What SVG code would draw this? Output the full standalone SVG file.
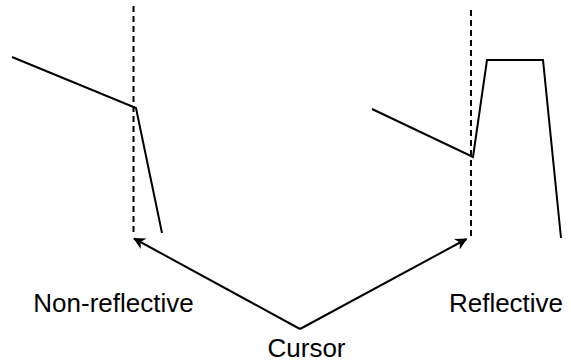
<svg xmlns="http://www.w3.org/2000/svg" width="571" height="364" viewBox="0 0 571 364">
<defs>
<style>
.ln{fill:none;stroke:#000;stroke-width:2;stroke-linejoin:miter}
.dash{fill:none;stroke:#000;stroke-width:2;stroke-dasharray:6 4}
.lbl{font-family:"Liberation Sans",Arial,sans-serif;font-size:26px;fill:#000;text-anchor:middle}
</style>
<marker id="ah" viewBox="0 0 12 12" refX="11" refY="6" markerWidth="12" markerHeight="12" markerUnits="userSpaceOnUse" orient="auto">
<path d="M0,0 L12,6 L0,12 L3.5,6 Z" fill="#000"/>
</marker>
</defs>
<rect width="571" height="364" fill="#fff"/>
<g id="nonreflective">
<line class="dash" x1="133.5" y1="6" x2="133.5" y2="236"/>
<polyline class="ln" points="12,57 136,108 162,233"/>
<text class="lbl" x="113.5" y="312">Non-reflective</text>
</g>
<g id="reflective">
<line class="dash" x1="471" y1="10" x2="471" y2="238"/>
<polyline class="ln" points="372,109 473,157 487,60 543,60 561,238"/>
<text class="lbl" x="506" y="312">Reflective</text>
</g>
<g id="cursor">
<text class="lbl" x="306.5" y="357">Cursor</text>
</g>
<g id="connectors">
<line class="ln" x1="300" y1="329" x2="134" y2="238.5" marker-end="url(#ah)"/>
<line class="ln" x1="300" y1="329" x2="466.5" y2="239" marker-end="url(#ah)"/>
</g>
</svg>
